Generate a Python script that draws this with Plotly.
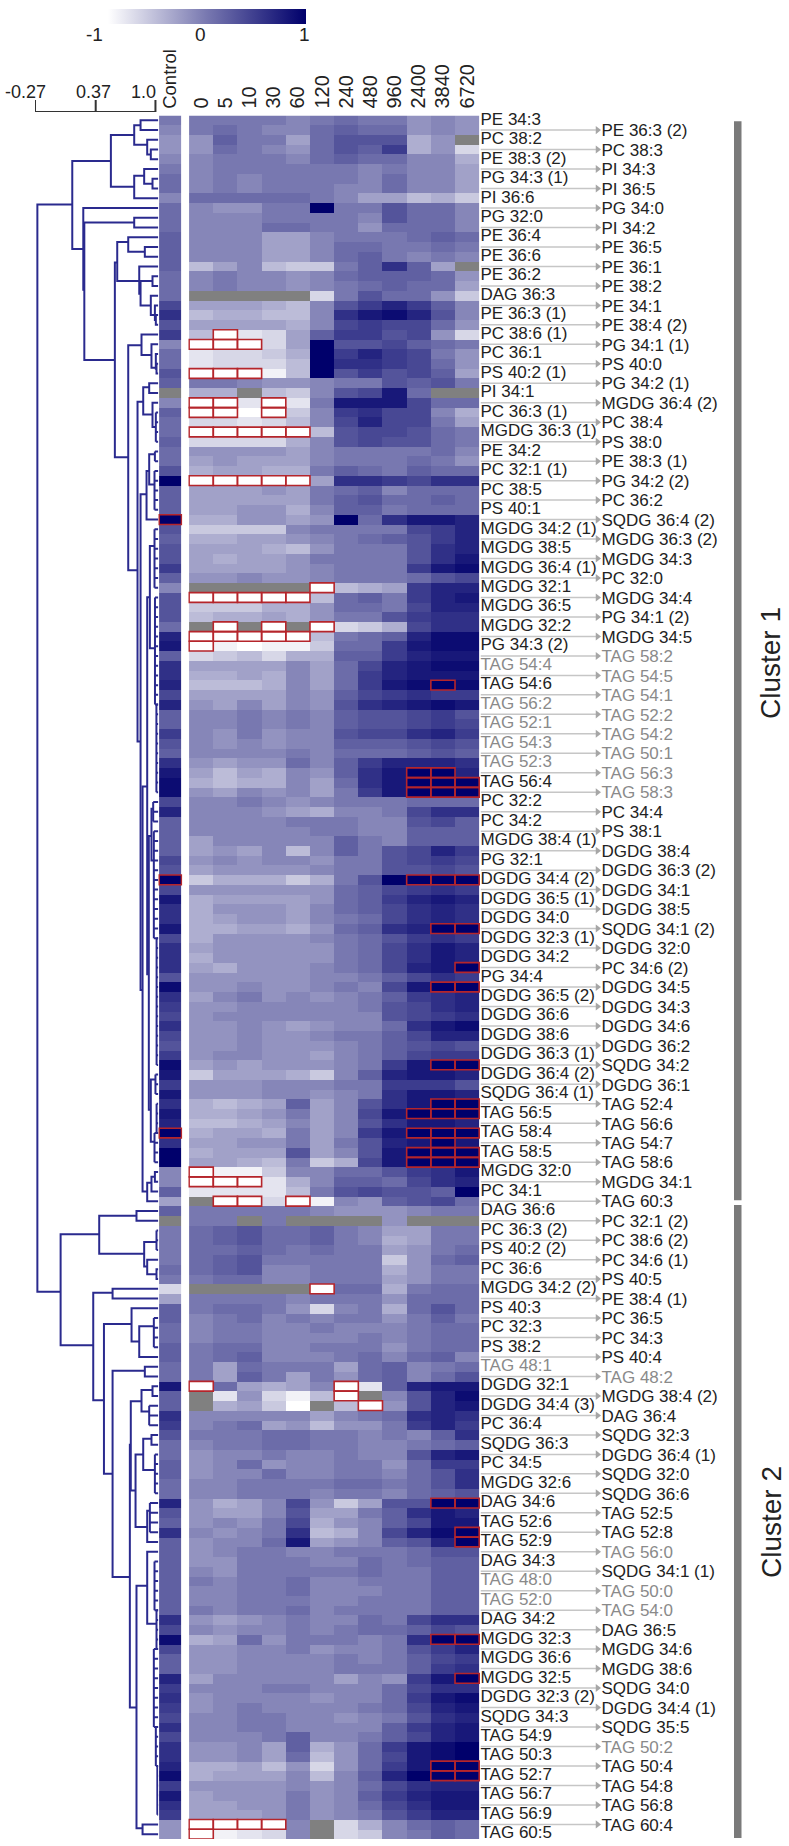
import plotly.graph_objects as go

N = None
times = ["0", "5", "10", "30", "60", "120", "240", "480", "960", "2400", "3840", "6720"]

left_labels = ["PE 34:3","PC 38:2","PE 38:3 (2)","PG 34:3 (1)","PI 36:6","PG 32:0","PE 36:4","PE 36:6","PE 36:2","DAG 36:3","PE 36:3 (1)","PC 38:6 (1)","PC 36:1","PS 40:2 (1)","PI 34:1","PC 36:3 (1)","MGDG 36:3 (1)","PE 34:2","PC 32:1 (1)","PC 38:5","PS 40:1","MGDG 34:2 (1)","MGDG 38:5","MGDG 36:4 (1)","MGDG 32:1","MGDG 36:5","MGDG 32:2","PG 34:3 (2)","TAG 54:4","TAG 54:6","TAG 56:2","TAG 52:1","TAG 54:3","TAG 52:3","TAG 56:4","PC 32:2","PC 34:2","MGDG 38:4 (1)","PG 32:1","DGDG 34:4 (2)","DGDG 36:5 (1)","DGDG 34:0","DGDG 32:3 (1)","DGDG 34:2","PG 34:4","DGDG 36:5 (2)","DGDG 36:6","DGDG 38:6","DGDG 36:3 (1)","DGDG 36:4 (2)","SQDG 36:4 (1)","TAG 56:5","TAG 58:4","TAG 58:5","MGDG 32:0","PC 34:1","DAG 36:6","PC 36:3 (2)","PS 40:2 (2)","PC 36:6","MGDG 34:2 (2)","PS 40:3","PC 32:3","PS 38:2","TAG 48:1","DGDG 32:1","DGDG 34:4 (3)","PC 36:4","SQDG 36:3","PC 34:5","MGDG 32:6","DAG 34:6","TAG 52:6","TAG 52:9","DAG 34:3","TAG 48:0","TAG 52:0","DAG 34:2","MGDG 32:3","MGDG 36:6","MGDG 32:5","DGDG 32:3 (2)","SQDG 34:3","TAG 54:9","TAG 50:3","TAG 52:7","TAG 56:7","TAG 56:9","TAG 60:5"]
right_labels = ["PE 36:3 (2)","PC 38:3","PI 34:3","PI 36:5","PG 34:0","PI 34:2","PE 36:5","PE 36:1","PE 38:2","PE 34:1","PE 38:4 (2)","PG 34:1 (1)","PS 40:0","PG 34:2 (1)","MGDG 36:4 (2)","PC 38:4","PS 38:0","PE 38:3 (1)","PG 34:2 (2)","PC 36:2","SQDG 36:4 (2)","MGDG 36:3 (2)","MGDG 34:3","PC 32:0","MGDG 34:4","PG 34:1 (2)","MGDG 34:5","TAG 58:2","TAG 54:5","TAG 54:1","TAG 52:2","TAG 54:2","TAG 50:1","TAG 56:3","TAG 58:3","PC 34:4","PS 38:1","DGDG 38:4","DGDG 36:3 (2)","DGDG 34:1","DGDG 38:5","SQDG 34:1 (2)","DGDG 32:0","PC 34:6 (2)","DGDG 34:5","DGDG 34:3","DGDG 34:6","DGDG 36:2","SQDG 34:2","DGDG 36:1","TAG 52:4","TAG 56:6","TAG 54:7","TAG 58:6","MGDG 34:1","TAG 60:3","PC 32:1 (2)","PC 38:6 (2)","PC 34:6 (1)","PS 40:5","PE 38:4 (1)","PC 36:5","PC 34:3","PS 40:4","TAG 48:2","MGDG 38:4 (2)","DAG 36:4","SQDG 32:3","DGDG 36:4 (1)","SQDG 32:0","SQDG 36:6","TAG 52:5","TAG 52:8","TAG 56:0","SQDG 34:1 (1)","TAG 50:0","TAG 54:0","DAG 36:5","MGDG 34:6","MGDG 38:6","SQDG 34:0","DGDG 34:4 (1)","SQDG 35:5","TAG 50:2","TAG 50:4","TAG 54:8","TAG 56:8","TAG 60:4"]
grey_labels = {"TAG 54:4","TAG 56:2","TAG 52:1","TAG 54:3","TAG 52:3","TAG 48:1","TAG 48:0","TAG 52:0","TAG 58:2","TAG 54:5","TAG 54:1","TAG 52:2","TAG 54:2","TAG 50:1","TAG 56:3","TAG 58:3","TAG 48:2","TAG 56:0","TAG 50:0","TAG 54:0","TAG 50:2"}

# values in tenths of a colour-scale unit
control_tenths = [0,-1,-2,-2,-1,0,1,1,-1,1,1,1,2,2,2,2,1,1,1,4,6,
 3,5,-1,1,1,3,2,N,-1,2,1,1,2,1,1,3,10,2,2,2,10,3,2,3,3,5,2,-1,3,3,3,1,7,
 8,2,6,6,7,4,7,2,2,5,3,2,6,8,9,9,4,7,2,2,2,2,4,3,10,4,8,6,6,8,4,6,6,
 6,3,9,6,5,4,6,4,3,5,9,8,5,8,6,8,7,10,6,10,10,-1,-1,2,-3,2,N,0,0,0,0,1,0,
 -7,-3,2,2,1,1,2,2,1,1,8,2,2,6,5,3,1,1,2,2,1,1,7,3,2,6,2,2,2,2,
 2,2,2,2,6,4,9,4,2,2,7,5,6,5,4,6,4,6,6,7,9,5,8,6,5,-2,-2]

time_tenths = [
[0,0,0,0,-1,0,1,0,0,-2,-1,-2],[0,1,0,-1,-1,1,2,1,1,-2,-1,-2],[-2,2,0,0,-3,1,3,3,3,-4,-2,N],[-2,1,0,-1,-2,1,3,2,5,-4,-2,-7],
[-1,0,0,0,-1,1,2,1,1,-1,-1,-4],[-1,0,0,0,0,0,0,-1,0,-1,-1,-3],[-1,0,-1,0,0,0,0,-1,1,-1,-1,-3],[-1,0,-1,0,0,0,-1,-1,1,-1,-1,-3],
[1,1,1,1,1,0,-1,-3,-3,-5,-4,-6],[-1,-2,-2,0,0,10,0,0,3,1,1,-1],[-1,-1,-1,0,0,0,0,-1,3,1,1,-1],[-1,-1,-1,1,1,0,0,-2,1,1,1,-1],
[-1,-1,-1,-3,-3,-1,0,0,0,1,2,1],[-1,-1,-1,-3,-3,-1,1,1,0,0,1,0],[-1,-1,-1,-3,-3,-1,1,2,0,-1,0,-1],[-5,-3,-1,-5,-6,-6,0,2,6,2,-3,N],
[-1,0,-1,-1,-2,-1,1,2,2,2,1,-2],[-1,0,-1,-1,-2,-1,0,1,2,1,1,-3],[N,N,N,N,N,-7,0,3,1,1,-2,-6],[-3,-3,-3,-4,-5,-1,3,5,7,5,2,-1],
[-5,-4,-4,-5,-5,-1,6,8,9,7,3,-1],
[-3,-3,-3,-3,-4,-1,4,5,4,4,1,-2],[-5,-10,-8,-7,-3,2,5,5,3,4,-2,-7],[-10,-10,-10,-7,-3,10,3,3,4,2,1,0],[-8,-7,-7,-6,-4,10,5,7,5,4,0,-2],
[-8,-7,-7,-7,-5,10,6,6,5,4,1,-2],[-10,-10,-10,-9,-5,10,3,5,3,4,2,-3],[0,0,-1,-2,-2,-1,0,0,3,2,3,0],[-4,-4,N,-5,-6,-1,3,4,8,1,N,N],
[-10,-10,-8,-10,-8,0,8,8,8,4,1,1],[-10,-10,-10,-10,-6,-1,5,6,4,4,-1,-4],[-7,-7,-8,-7,-5,-1,4,7,4,4,0,-3],[-10,-10,-10,-10,-10,-5,3,4,4,3,1,0],
[-7,-7,-7,-7,-4,-1,3,4,3,3,1,0],[-2,-2,-2,-2,-3,-1,0,0,0,0,1,-1],[-3,-2,-3,-3,-3,-1,0,0,0,1,0,-2],[-4,-3,-3,-4,-4,0,2,1,0,2,1,1],
[-10,-10,-10,-10,-10,-3,6,6,5,4,6,6],[-3,-3,-3,-2,-3,0,1,2,-1,1,1,1],[-3,-3,-3,-3,-3,0,2,3,1,1,2,1],[-3,-3,-2,-2,-4,-1,2,2,0,1,1,1],
[-4,-4,-2,-2,-3,-2,10,1,6,8,8,7],[-6,-6,-6,-6,-1,0,0,0,0,4,5,7],[-4,-4,-3,-3,-2,-1,0,1,2,3,5,7],[-3,-3,-3,-4,-5,-2,0,0,0,3,6,7],
[-3,-4,-3,-3,-2,0,0,0,0,3,6,8],[-3,-3,-3,-3,-2,-1,0,0,0,5,8,9],[-2,-2,-1,-2,-2,-1,0,0,0,1,3,4],[N,N,N,N,N,-10,-5,-4,-3,5,7,7],
[-10,-10,-10,-10,-10,-5,1,2,0,5,7,8],[-6,-6,-6,-4,-4,-2,1,1,0,4,7,7],[-5,-4,-4,-3,-4,-2,0,0,3,5,6,6],[N,-10,N,-10,N,-10,-7,-6,-4,4,6,6],
[-10,-10,-10,-10,-10,-5,0,1,2,7,9,9],
[-10,-9,-10,-9,-9,-6,1,1,5,8,9,9],[-7,-6,-5,-7,-4,-4,2,2,5,7,8,8],[-3,-3,-3,-3,-1,-3,1,4,7,8,9,9],[-4,-4,-3,-4,-1,-3,1,5,7,8,8,8],
[-5,-5,-5,-4,-1,-3,1,5,8,9,10,9],[-3,-3,-3,-3,-1,-2,2,4,5,6,5,5],[-2,-3,-1,-3,-1,-2,3,6,7,8,9,8],[-1,-1,0,-1,0,-1,2,3,3,4,5,3],
[-1,-1,0,-1,0,-1,2,3,3,4,5,4],[-1,-2,0,-2,-1,-1,3,4,4,6,7,5],[-1,-2,-1,-2,-1,-1,2,2,2,3,4,3],[-1,-1,-1,-1,0,-1,1,1,1,2,3,2],
[-2,-3,-2,-2,1,-1,2,5,7,7,7,6],[-3,-5,-3,-4,-1,-2,2,6,8,10,10,7],[-4,-5,-4,-4,-1,-3,1,6,8,10,10,10],[-2,-3,-1,-2,-1,-3,0,5,8,10,10,10],
[-1,-1,0,-1,-2,-1,0,0,0,1,1,1],[-1,-1,-1,-2,-3,-4,-1,-1,0,4,6,6],[-1,-1,-1,-1,0,0,0,-1,-1,3,4,2],[-1,-1,-1,-1,-1,0,0,-1,-1,2,2,2],
[-3,-1,-1,-1,-1,-1,2,0,-1,2,2,2],[-3,-2,-3,-1,-5,-1,2,0,3,4,7,5],[-2,-1,-2,-1,-1,-2,0,0,3,4,5,4],[-3,-2,-2,-2,-2,-1,0,0,3,3,4,3],
[-6,-4,-4,-4,-6,-4,0,3,10,10,10,10],[-2,-2,-2,-2,-2,-2,1,2,4,5,6,5],[-4,-3,-3,-3,-3,-2,1,2,5,7,8,7],[-4,-2,-2,-2,-3,-1,1,2,4,6,7,6],
[-4,-3,-2,-2,-3,-1,0,1,4,6,7,6],[-4,-4,-3,-3,-4,-2,1,2,6,7,10,10],[-4,-2,-2,-2,-2,-1,0,1,3,5,6,5],[-3,-2,-2,-2,-2,-2,0,1,4,6,8,7],
[-4,-2,-2,-2,-2,-2,0,1,4,6,8,7],
[-3,-4,-2,-2,-2,-1,0,1,4,7,8,10],[-2,-2,-2,-2,-2,-1,-1,0,2,4,6,5],[-2,-2,-1,-2,-2,-1,0,-1,4,8,10,10],[-3,-1,0,-2,-1,-2,-1,0,2,5,6,7],
[-2,-2,-1,-1,-1,-1,-1,0,3,4,6,7],[-2,-1,-1,-1,-1,-1,-1,-1,3,4,5,6],[-2,-2,-1,-2,-3,-2,-1,-1,1,6,8,9],[-2,-2,-1,-2,-2,-1,0,0,2,4,7,7],
[-2,-2,-1,-2,-2,-2,-1,0,2,3,4,3],[-2,-1,-1,-2,-2,-3,-1,0,2,4,5,5],[-3,-2,-3,-2,-2,-2,-1,0,5,8,10,10],[-6,-3,-3,-3,-4,-6,-1,2,7,8,8,7],
[-2,-2,-2,-1,-1,-1,0,0,5,5,5,3],[-2,-2,-2,-1,-1,-2,-1,0,6,8,8,7],[-4,-5,-4,-3,2,-3,-1,3,6,8,10,10],[-4,-4,-3,-2,0,-3,-1,4,8,10,10,10],
[-5,-5,-4,-3,-1,-3,-1,3,6,8,8,7],[-4,-3,-3,-4,0,-3,-1,5,8,10,10,10],[-3,-3,-2,-2,0,-3,0,3,7,8,10,8],[-4,-3,-3,-3,3,-3,-1,3,8,10,10,10],
[-3,-3,-4,-5,0,-6,-4,4,8,10,10,10],[-10,-9,-9,-6,-1,-1,1,1,3,5,6,8],[-10,-10,-10,-8,-4,-1,2,2,1,4,6,7],[-8,-8,-8,-8,-5,0,3,4,3,3,2,10],
[N,-10,-10,-7,-10,-9,-1,-2,2,3,4,1],[0,0,0,0,0,-1,-2,-2,-2,-1,0,0],[0,0,N,0,N,N,N,N,-2,N,N,N],[1,2,3,1,1,2,0,-1,-3,-3,0,0],
[1,2,3,1,1,2,0,-1,-4,-3,0,0],[1,1,2,1,0,1,0,0,-3,-2,0,1],[1,2,3,0,0,0,0,0,-6,-2,1,2],[1,2,3,-1,-1,0,0,0,-4,-2,0,0],[0,1,1,-1,-1,0,0,0,-3,-2,0,0],
[N,N,N,N,N,-10,1,1,-4,0,1,1],[0,0,0,0,-1,0,0,0,-2,1,1,1],[0,1,1,0,-2,-7,-1,0,-4,1,3,1],[-1,0,1,-1,0,-1,0,0,-2,0,2,0],[-1,0,0,-1,-1,0,-1,-1,-1,0,1,1],
[-1,0,0,-1,-1,-1,-1,0,-1,0,1,1],[0,1,1,-1,-1,0,0,0,-2,0,1,1],[0,1,2,-1,-1,-1,0,1,-1,1,2,-1],[0,-3,1,0,0,0,-3,1,2,-1,0,1],[0,-3,2,0,-3,0,-2,1,2,-1,1,3],
[-10,1,-3,-4,-3,-1,-10,-8,2,7,8,8],[N,-8,-2,-7,-9,-5,-10,N,-1,3,7,9],[N,-4,-3,-6,-10,N,-5,-10,-2,3,7,8],[-1,-1,-1,-1,-1,-3,-1,0,1,6,7,6],[-1,0,1,-3,-2,-5,-2,-2,0,5,7,5],
[0,0,0,1,1,0,0,-1,0,-1,2,6],[-1,0,0,1,1,0,0,-1,-1,0,1,2],[-2,-1,-1,0,-1,-1,0,-1,-1,3,7,8],[-2,-1,1,-2,-1,-1,0,0,-2,1,5,5],[-2,-1,-1,1,-1,-1,0,0,-1,1,3,6],
[-1,-1,0,0,0,0,1,1,0,1,3,6],[-1,-1,0,0,0,-1,0,0,-1,1,2,3],[-2,-4,-3,-1,4,-2,-6,-3,3,3,10,10],[-2,-3,-3,-1,3,-3,-3,0,2,6,8,7],[-2,-1,-2,0,4,-4,-2,-1,2,4,8,8],
[-1,-2,-1,0,6,-5,-4,-1,4,7,9,10],[-2,-1,-1,1,8,-3,-2,-1,2,3,7,10],[-2,-1,0,0,-1,-1,0,0,0,1,3,3],[-2,-2,0,0,0,-1,-1,1,0,1,2,2],[-1,-2,0,0,0,0,0,1,0,0,2,2],
[0,-1,0,0,1,-1,-1,0,0,0,2,2],[-1,-1,0,0,1,-1,-1,-1,0,0,2,2],[-1,-1,0,0,0,-1,-1,0,0,0,2,2],[0,-1,0,0,1,-1,0,0,0,0,2,2],[-2,-3,-2,-1,0,-1,-1,1,0,4,6,6],
[-1,-2,-1,-1,0,-1,0,1,1,2,4,3],[-4,-3,1,-2,0,0,0,-1,0,6,10,10],[-2,-2,-1,-1,0,-2,-1,-1,0,3,5,7],[-2,-2,-1,-1,-1,-1,0,-1,0,2,4,5],[-2,-2,-1,-1,-1,-1,0,0,0,2,5,6],
[-3,-1,-1,-1,-1,-1,-3,-1,-2,5,8,10],[-1,-1,-1,0,0,-1,-1,-1,1,4,6,6],[-2,-1,-1,-1,-1,-2,-1,-1,1,5,8,9],[-2,-1,0,-1,-1,-1,-1,0,1,4,7,8],[-1,-1,0,0,-1,-1,-2,-1,0,3,6,7],
[-1,-1,0,0,-1,-1,-1,-1,2,5,7,8],[-1,-1,-1,0,2,-1,-1,0,2,4,7,8],[-2,-2,-1,-3,2,-4,-2,1,5,8,9,10],[-2,-2,-1,-3,1,-5,-2,1,4,8,9,10],[-4,-4,-3,-5,-2,-7,-2,1,5,8,10,10],
[-4,-3,-3,-3,-1,-5,-1,2,7,10,10,10],[-2,-2,-2,-2,-1,-2,-1,1,4,6,7,7],[-3,-2,-2,-2,0,-2,-1,2,5,7,8,8],[-3,-3,-2,-2,0,-2,-1,1,4,6,8,8],[-3,-3,-3,-2,0,-2,-1,0,3,5,7,7],
[-10,-10,-10,-10,-1,N,-7,-4,-1,1,2,1],[-10,-9,-8,-7,-1,N,-7,-6,-1,0,2,1],
]

red_cells = {22:[1],23:[0,1,2],26:[0,1,2],29:[0,1,3],30:[0,1,3],32:[0,1,2,3,4],37:[0,1,2,3,4],48:[5],49:[0,1,2,3,4],52:[1,3,5],53:[0,1,2,3,4],54:[0],58:[10],
 67:[9,10],68:[9,10,11],69:[9,10,11],78:[9,10,11],83:[10,11],87:[11],89:[10,11],97:[10,11],101:[10,11],102:[9,10,11],104:[9,10,11],105:[10],106:[9,10,11],107:[9,10,11],
 108:[0],109:[0,1,2],111:[1,2,4],120:[5],130:[0,6],131:[6],132:[7],142:[10,11],145:[11],146:[11],156:[10,11],160:[11],169:[10,11],170:[10,11],175:[0,1,2,3],176:[0]}
red_control = [41, 78, 104]

L = 1.03  # leaf position on the distance scale
# (merge distance, upper row, upper child distance, lower row, lower child distance)
tree_merges = [
(-.245,8.63,.123,120.3,0.0),(.123,4.17,.53,13.2,.239),(.53,1.5,.776,6.81,.776),(.776,.5,.843,2.5,.913),(.843,0,L,1,L),(.913,2,L,3.5,.951),(.951,3,L,4,L),
(.776,5.7,.881,8,L),(.881,5,L,6.5,.969),(.969,6,L,7,L),(.239,9,L,17.4,.25),(.25,10.5,.776,24.6,.572),(.776,10,L,11,L),(.572,14.6,.597,34.6,.713),
(.597,12.5,.713,16.5,.829),(.713,12,L,13.5,.888),(.888,13,L,14,L),(.829,15,L,17.8,.843),(.843,16.5,.969,19,.951),(.969,16,L,17,L),(.951,18,L,20,.994),(.994,19,L,20.5,1.004),(1.004,20,L,21,L),
(.713,23.1,.853,46.2,.811),(.853,22,L,24.1,.958),(.958,23,L,25.4,1.004),(1.004,24,L,25.5,1.011),(1.011,25,L,26,L),
(.811,28.9,.871,63.8,.843),(.871,27.4,.934,30.2,.969),(.934,27,L,28,L),(.969,29,L,31.5,1.004),
(.843,38.4,.906,89.3,.864),(.906,36,.934,41,L),(.934,34.3,.994,37.4,.99),(.864,68.4,.913,110,.913),(.913,48.97,.941,87.7,.93),(.941,43.7,.99,54.2,.995),
(.93,73.5,.958,101.6,.951),(.958,70.7,.976,76,.983),(.951,98.5,1.0,104.9,.99),(.913,109.1,.958,111,L),(.958,108.5,.994,110,L),(.994,108,L,109,L),
(0,114.4,.407,125.8,.344),(.407,112.5,.8,116.4,.881),(.8,112,L,113,L),(.881,115.2,1.011,117.7,.913),(.913,117,L,118.5,1.011),(1.011,118,L,119,L),
(.344,120.4,.548,131.45,.457),(.548,120,L,121,L),(.457,123.6,.748,139,.548),(.748,122,L,125.4,.829),(.829,123.85,.983,127,L),
(.548,128.4,.888,149.6,.73),(.888,128,L,129,L),(.73,136,.74,163,.8),(.74,131.55,.853,140.7,.79),(.853,130.4,.969,132.6,.934),(.969,130,L,131,L),
(.79,137,.871,144.45,.913),(.871,135.4,.958,138.6,.994),(.958,135,L,136,L),(.913,142.8,.941,146,L),(.8,150.5,.913,175.4,.864),(.913,147,L,154.4,1.011),(.864,175,L,176,L),
]
# (distance, first row, last row): runs of leaves hanging off one stem
tree_combs = [(1.004,30,33),(.994,34,35),(.99,36,40),(.99,42,48),(.995,49,60),(1.01,60,69),(.976,70,72),(.983,73,84),(1.012,84,97),(1.0,98,100),(1.012,101,104),(.99,104,107),
 (1.011,114,116),(.983,123,126),(.934,132,134),(.994,137,141),(.941,142,145),(.99,148,153),(1.011,153,157),(.983,157,165),(1.004,165,169),(1.02,169,174)]

scale_ticks = [-0.27, 0.37, 1.0]
scale_text = ["-0.27", "0.37", "1.0"]
scale_shift = [-10, -2, -12]
cbar_ticks = ["-1", "0", "1"]

W, H = 789, 1846
def fx(a, b): return [a / W, b / W]
y_dom = [1 - 1839 / H, 1 - 115.5 / H]
INK = "#222222"
FONT = "Liberation Sans"
scale = [[0, "#ffffff"], [0.5, "#7878b0"], [1, "#00006b"]]

nrows = len(time_tenths)
rows = list(range(nrows))
z_main = [[None if v is None else v / 10 for v in r] for r in time_tenths]
z_ctrl = [[None if v is None else v / 10] for v in control_tenths]
mask_main = [[1 if v is None else None for v in r] for r in time_tenths]
mask_ctrl = [[1 if v is None else None] for v in control_tenths]

fig = go.Figure()
grey = [[0, "#808080"], [1, "#808080"]]
fig.add_trace(go.Heatmap(z=mask_ctrl, x=["Control"], y=rows, xaxis="x", yaxis="y", colorscale=grey, showscale=False, zmin=0, zmax=1, hoverinfo="skip"))
fig.add_trace(go.Heatmap(z=mask_main, x=times, y=rows, xaxis="x2", yaxis="y", colorscale=grey, showscale=False, zmin=0, zmax=1, hoverinfo="skip"))
fig.add_trace(go.Heatmap(z=z_ctrl, x=["Control"], y=rows, xaxis="x", yaxis="y", colorscale=scale, zmin=-1, zmax=1, showscale=False))
fig.add_trace(go.Heatmap(z=z_main, x=times, y=rows, xaxis="x2", yaxis="y", colorscale=scale, zmin=-1, zmax=1,
    colorbar=dict(orientation="h", x=108 / W, xanchor="left", y=1 - 9 / H, yanchor="top", lenmode="pixels", len=198,
                  thickness=15, outlinewidth=0, xpad=0, ypad=0, showticklabels=False, ticks="")))

# dendrogram
tx, ty = [], []
for d, ra, da, rb, db in tree_merges:
    tx += [da, d, d, db, None]
    ty += [ra, ra, rb, rb, None]
for d, r1, r2 in tree_combs:
    tx += [d, d, None]
    ty += [r1, r2, None]
    for r in range(r1, r2 + 1):
        tx += [d, L, None]
        ty += [r, r, None]
fig.add_trace(go.Scatter(x=tx, y=ty, xaxis="x3", yaxis="y", mode="lines", line=dict(color="#2a2a8e", width=2), hoverinfo="skip", showlegend=False, cliponaxis=False))

# distance scale bar, on its own small axis pair above the tree
sx, sy = [scale_ticks[0], scale_ticks[-1], None], [0, 0, None]
for t in scale_ticks:
    sx += [t, t, None]
    sy += [0, 0.44, None]
fig.add_trace(go.Scatter(x=sx, y=sy, xaxis="x5", yaxis="y2", mode="lines", line=dict(color="#333333", width=2), hoverinfo="skip", showlegend=False, cliponaxis=False))

# labels and arrows
left_rows = rows[0::2]
right_rows = rows[1::2]
def lab_colors(labels): return ["#8a8a8a" if t in grey_labels else INK for t in labels]
fig.add_trace(go.Scatter(x=[0] * len(left_labels), y=left_rows, text=left_labels, mode="text", textposition="middle right",
    textfont=dict(family=FONT, size=17, color=lab_colors(left_labels)), xaxis="x4", yaxis="y", hoverinfo="skip", showlegend=False, cliponaxis=False))
fig.add_trace(go.Scatter(x=[121] * len(right_labels), y=[r + 0.2 for r in right_rows], text=right_labels, mode="text", textposition="middle right",
    textfont=dict(family=FONT, size=17, color=lab_colors(right_labels)), xaxis="x4", yaxis="y", hoverinfo="skip", showlegend=False, cliponaxis=False))
ax, ay = [], []
for r in right_rows:
    ax += [0, 118, None]
    ay += [r, r, None]
fig.add_trace(go.Scatter(x=ax, y=ay, mode="lines", line=dict(color="#c6c6c6", width=1.5), xaxis="x4", yaxis="y", hoverinfo="skip", showlegend=False, cliponaxis=False))
fig.add_trace(go.Scatter(x=[117] * len(right_rows), y=right_rows, mode="markers", marker=dict(symbol="triangle-right", size=7, color="#a6a6a6"), xaxis="x4", yaxis="y", hoverinfo="skip", showlegend=False, cliponaxis=False))

# red outlines
shapes = []
RED = "#b5252b"
for r, cols in red_cells.items():
    for c in cols:
        shapes.append(dict(type="rect", xref="x2", yref="y", x0=c - .5, x1=c + .5, y0=r - .5, y1=r + .5, line=dict(color=RED, width=1.6), fillcolor="rgba(0,0,0,0)"))
for r in red_control:
    shapes.append(dict(type="rect", xref="x", yref="y", x0=-.5, x1=.5, y0=r - .5, y1=r + .5, line=dict(color=RED, width=1.6), fillcolor="rgba(0,0,0,0)"))
# cluster bars
for r0, r1 in [(0.1, 110.9), (111.4, 176.4)]:
    shapes.append(dict(type="rect", xref="paper", yref="y", x0=734 / W, x1=741.5 / W, y0=r0, y1=r1, line=dict(width=0), fillcolor="#7a7a7a"))

ann = []
for t, s, sh in zip(scale_ticks, scale_text, scale_shift):
    ann.append(dict(x=t, y=0.74, xref="x5", yref="y2", text=s, showarrow=False, xshift=sh, xanchor="center", yanchor="middle", font=dict(family=FONT, size=18, color=INK)))
for xp, s in zip([94, 200, 304], cbar_ticks):
    ann.append(dict(x=xp / W, y=1 - 35 / H, xref="paper", yref="paper", text=s, showarrow=False, xanchor="center", yanchor="middle", font=dict(family=FONT, size=19, color=INK)))
for s, yp in [("Cluster 1", 663), ("Cluster 2", 1522)]:
    ann.append(dict(x=771 / W, y=1 - yp / H, xref="paper", yref="paper", text=s, showarrow=False, textangle=-90, xanchor="center", yanchor="middle", font=dict(family=FONT, size=28, color=INK)))

hidden = dict(visible=False, showgrid=False, zeroline=False)
tick_axis = dict(side="top", anchor="y", showgrid=False, zeroline=False, showline=False, ticks="outside", ticklen=2, tickcolor="rgba(0,0,0,0)",
                 tickangle=-90, tickfont=dict(family=FONT, size=20, color=INK), type="category")
ctrl_axis = dict(tick_axis, tickfont=dict(family=FONT, size=18.5, color=INK))
fig.update_layout(
    width=W, height=H, autosize=False, margin=dict(l=0, r=0, t=0, b=0, autoexpand=False),
    paper_bgcolor="white", plot_bgcolor="rgba(0,0,0,0)", showlegend=False, shapes=shapes, annotations=ann,
    xaxis=dict(domain=fx(158.3, 182.3), **ctrl_axis),
    xaxis2=dict(domain=fx(188.3, 480), **tick_axis),
    xaxis3=dict(domain=fx(35, 158.3), range=[-0.27, L], anchor="y", **hidden),
    xaxis4=dict(domain=fx(480.5, 789), range=[0, 308.5], anchor="y", **hidden),
    xaxis5=dict(domain=fx(35, 158.3), range=[-0.27, L], anchor="y2", **hidden),
    yaxis=dict(domain=y_dom, range=[nrows - .5, -.5], anchor="x", **hidden),
    yaxis2=dict(domain=[1 - 112 / H, 1 - 85 / H], range=[0, 1], anchor="x5", **hidden),
)
fig.write_html("out.html", post_script="document.body.style.margin='0';", config={"displayModeBar": False})
